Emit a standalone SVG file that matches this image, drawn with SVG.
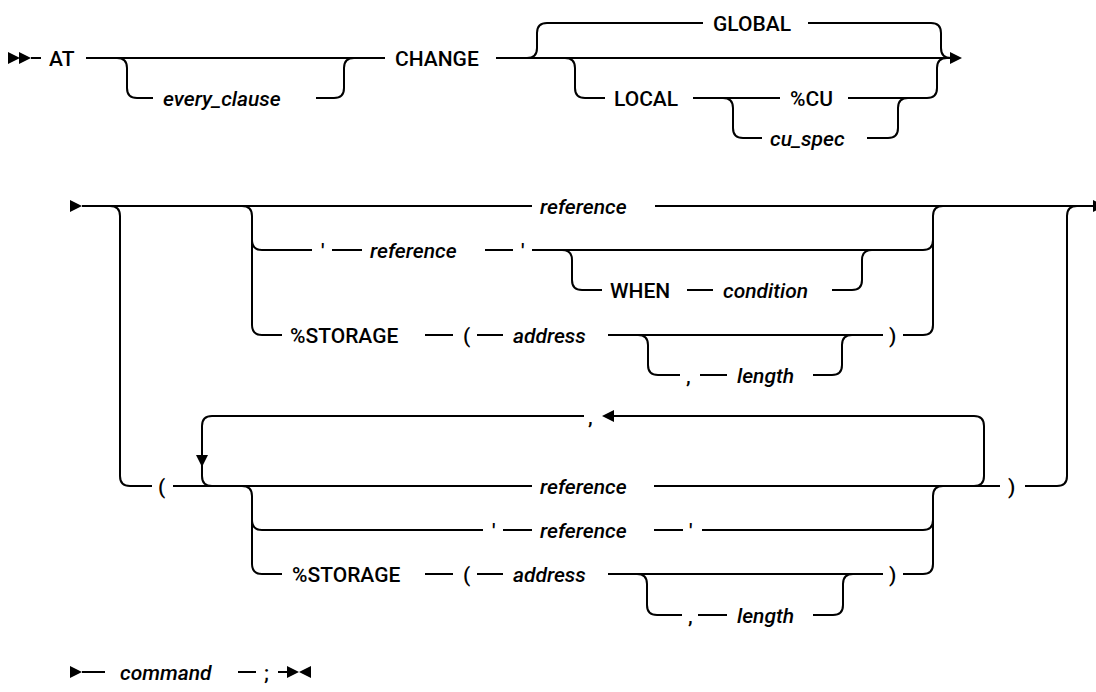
<svg xmlns="http://www.w3.org/2000/svg" width="1096" height="692" viewBox="0 0 1096 692">
<style>
.c{fill:none;stroke:#000;stroke-width:2}
.a{fill:#000}
text{font-family:Roboto,"Noto Sans","Liberation Sans",sans-serif;font-size:21px;font-weight:500;fill:#000}
.i{font-style:italic}
</style>
<defs>
<polygon id="ar" points="0,-6 12,0 0,6"/>
<polygon id="al" points="0,-6 -12,0 0,6"/>
<polygon id="ad" points="-6,0 6,0 0,12"/>
</defs>
<rect width="1096" height="692" fill="#fff"/>
<g id="connectors">
<!-- row 1 -->
<use href="#ar" class="a" x="8" y="58"/>
<use href="#ar" class="a" x="19" y="58"/>
<path class="c" d="M31 58H41"/>
<path class="c" d="M86 58H385"/>
<path class="c" d="M117 58Q127 58 127 68V88Q127 98 137 98H153"/>
<path class="c" d="M316 98H334Q344 98 344 88V68Q344 58 354 58"/>
<path class="c" d="M496 58H950"/>
<use href="#ar" class="a" x="950" y="58"/>
<path class="c" d="M527 58Q537 58 537 48V33Q537 23 547 23H703"/>
<path class="c" d="M808 23H931Q941 23 941 33V48Q941 58 951 58"/>
<path class="c" d="M565 58Q575 58 575 68V88Q575 98 585 98H605"/>
<path class="c" d="M693 98H780"/>
<path class="c" d="M848 98H927Q937 98 937 88V68Q937 58 947 58"/>
<path class="c" d="M723 98Q733 98 733 108V128Q733 138 743 138H762"/>
<path class="c" d="M867 138H888Q898 138 898 128V108Q898 98 908 98"/>
<!-- row 2 -->
<use href="#ar" class="a" x="70" y="206"/>
<path class="c" d="M82 206H532"/>
<path class="c" d="M655 206H1093"/>
<use href="#ar" class="a" x="1093" y="206"/>
<path class="c" d="M110 206Q120 206 120 216V476Q120 486 130 486H152"/>
<path class="c" d="M1057 486Q1067 486 1067 476V216Q1067 206 1077 206"/>
<path class="c" d="M242 206Q252 206 252 216V325Q252 335 262 335H282"/>
<path class="c" d="M252 240Q252 250 262 250H312"/>
<path class="c" d="M332 250H362"/>
<path class="c" d="M485 250H513"/>
<path class="c" d="M532 250H923Q933 250 933 240"/>
<path class="c" d="M903 335H923Q933 335 933 325V216Q933 206 943 206"/>
<path class="c" d="M562 250Q572 250 572 260V280Q572 290 582 290H602"/>
<path class="c" d="M687 290H713"/>
<path class="c" d="M832 290H852Q862 290 862 280V260Q862 250 872 250"/>
<path class="c" d="M425 335H453"/>
<path class="c" d="M477 335H503"/>
<path class="c" d="M608 335H883"/>
<path class="c" d="M638 335Q648 335 648 345V365Q648 375 658 375H680"/>
<path class="c" d="M700 375H727"/>
<path class="c" d="M813 375H832Q842 375 842 365V345Q842 335 852 335"/>
<!-- row 3 -->
<path class="c" d="M173 486H532"/>
<path class="c" d="M654 486H1000"/>
<path class="c" d="M1025 486H1057"/>
<path class="c" d="M212 416Q202 416 202 426V476Q202 486 212 486"/>
<use href="#ad" class="a" x="202" y="455"/>
<path class="c" d="M212 416H584"/>
<use href="#al" class="a" x="614" y="416"/>
<path class="c" d="M614 416H974Q984 416 984 426V476Q984 486 974 486"/>
<path class="c" d="M242 486Q252 486 252 496V564Q252 574 262 574H282"/>
<path class="c" d="M252 520Q252 530 262 530H483"/>
<path class="c" d="M503 530H532"/>
<path class="c" d="M654 530H683"/>
<path class="c" d="M702 530H923Q933 530 933 520"/>
<path class="c" d="M903 574H923Q933 574 933 564V496Q933 486 943 486"/>
<path class="c" d="M425 574H453"/>
<path class="c" d="M477 574H503"/>
<path class="c" d="M608 574H883"/>
<path class="c" d="M637 574Q647 574 647 584V605Q647 615 657 615H682"/>
<path class="c" d="M698 615H727"/>
<path class="c" d="M813 615H833Q843 615 843 605V584Q843 574 853 574"/>
<!-- row 4 -->
<use href="#ar" class="a" x="70" y="672"/>
<path class="c" d="M82 672H105"/>
<path class="c" d="M238 672H256"/>
<path class="c" d="M278 672H288"/>
<use href="#ar" class="a" x="287" y="672"/>
<use href="#al" class="a" x="311" y="672"/>
</g>
<g id="n-at"><text x="49" y="65.5">AT</text></g>
<g id="n-every"><text class="i" x="163" y="105.5">every_clause</text></g>
<g id="n-change"><text x="395" y="65.5">CHANGE</text></g>
<g id="n-global"><text x="713" y="30.5">GLOBAL</text></g>
<g id="n-local"><text x="614" y="105.5">LOCAL</text></g>
<g id="n-cu"><text x="790" y="105.5">%CU</text></g>
<g id="n-cuspec"><text class="i" x="770" y="145.5">cu_spec</text></g>
<g id="n-ref1"><text class="i" x="540" y="213.5">reference</text></g>
<g id="n-q1"><text x="321" y="257.5">'</text></g>
<g id="n-ref2"><text class="i" x="370" y="257.5">reference</text></g>
<g id="n-q2"><text x="521" y="257.5">'</text></g>
<g id="n-when"><text x="610" y="297.5">WHEN</text></g>
<g id="n-cond"><text class="i" x="723" y="297.5">condition</text></g>
<g id="n-stor1"><text x="290" y="342.5">%STORAGE</text></g>
<g id="n-lp1"><text x="463" y="342.5">(</text></g>
<g id="n-addr1"><text class="i" x="513" y="342.5">address</text></g>
<g id="n-comma1"><text x="686" y="382.5">,</text></g>
<g id="n-len1"><text class="i" x="737" y="382.5">length</text></g>
<g id="n-rp1"><text x="889" y="342.5">)</text></g>
<g id="n-lp"><text x="158" y="493.5">(</text></g>
<g id="n-comma-loop"><text x="588" y="423.5">,</text></g>
<g id="n-ref3"><text class="i" x="540" y="493.5">reference</text></g>
<g id="n-rp"><text x="1008" y="493.5">)</text></g>
<g id="n-q3"><text x="492" y="537.5">'</text></g>
<g id="n-ref4"><text class="i" x="540" y="537.5">reference</text></g>
<g id="n-q4"><text x="689" y="537.5">'</text></g>
<g id="n-stor2"><text x="292" y="581.5">%STORAGE</text></g>
<g id="n-lp2"><text x="463" y="581.5">(</text></g>
<g id="n-addr2"><text class="i" x="513" y="581.5">address</text></g>
<g id="n-comma2"><text x="688" y="622.5">,</text></g>
<g id="n-len2"><text class="i" x="737" y="622.5">length</text></g>
<g id="n-rp2"><text x="889" y="581.5">)</text></g>
<g id="n-cmd"><text class="i" x="120" y="679.5">command</text></g>
<g id="n-semi"><text x="264" y="679.5">;</text></g>
</svg>
